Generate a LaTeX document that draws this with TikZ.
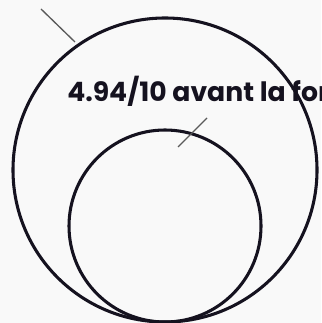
\documentclass[tikz,border=0pt]{standalone}
\usepackage{fontspec}
\setmainfont{Poppins}
\usepackage{xcolor}
\usetikzlibrary{positioning}
\definecolor{RingInk}{HTML}{15121F}
\definecolor{TickGray}{HTML}{5A5A5A}
\definecolor{PageBg}{HTML}{F9F9F9}
\tikzset{
    % Ring styles
    ring/.style={
        circle,
        draw=RingInk,
        line width=2.3pt,
        inner sep=0pt
    },
    % Leader line style
    leader/.style={
        draw=TickGray,
        line width=1pt
    },
    score/.style={
        anchor=base west,
        inner sep=0pt,
        text=RingInk,
        font=\bfseries\fontsize{20}{24}\selectfont
    }
}
\begin{document}
\begin{tikzpicture}[x=0.75pt, y=-0.75pt]
    \fill[PageBg] (0,0) rectangle (321,323);
    \useasboundingbox (0,0) rectangle (321,323);
    \clip (0,0) rectangle (321,323);

    \node[score] (scorebefore) at (67,102) {4.94/10 avant la formation};

    \node[ring, minimum size=228pt] (outer) at (165,170) {};
    \node[ring, minimum size=144pt] (inner) at (165,226) {};

    \coordinate (outertickA) at (41,9);
    \coordinate (outertickB) at (75,42);
    \draw[leader] (outertickA) -- (outertickB);

    \coordinate (innertickA) at (207,118);
    \coordinate (innertickB) at (178,147);
    \draw[leader] (innertickA) -- (innertickB);
\end{tikzpicture}
\end{document}
